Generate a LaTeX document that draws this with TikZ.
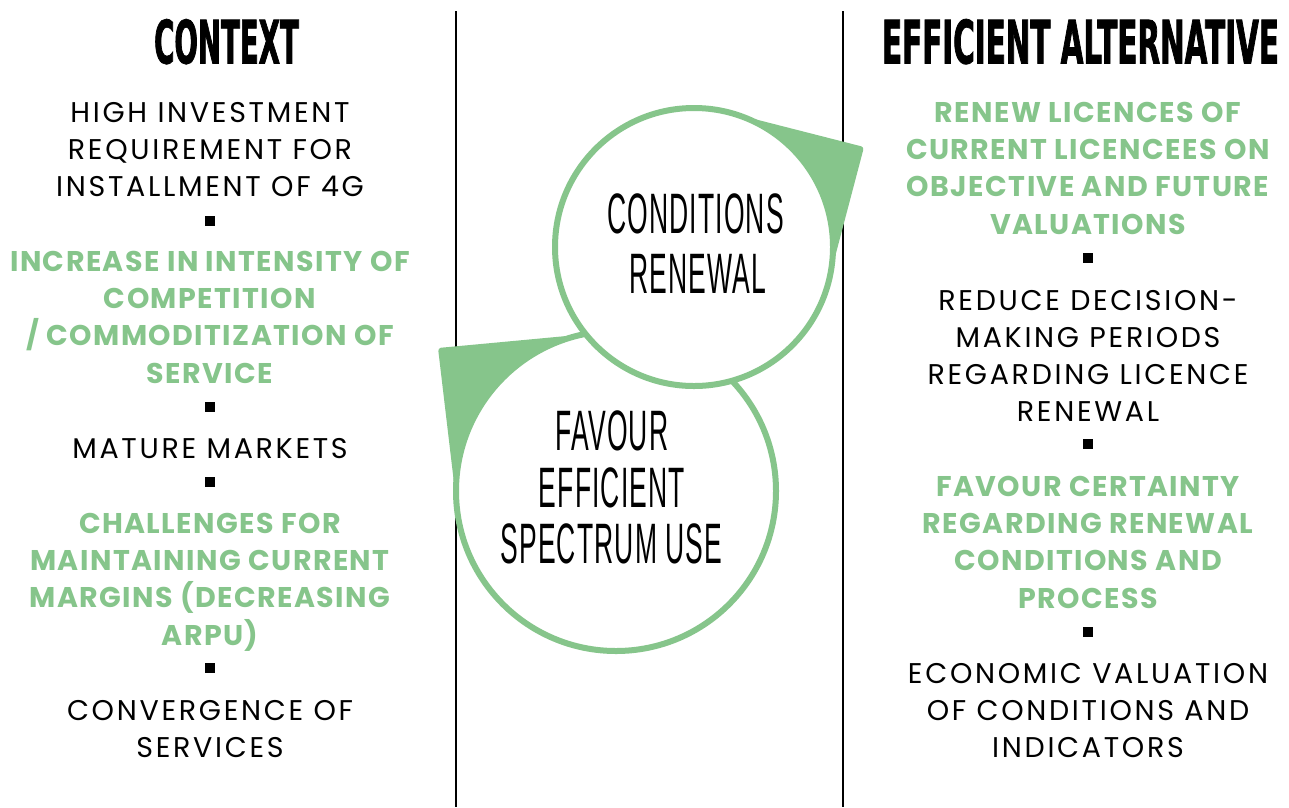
\documentclass[tikz,border=0pt]{standalone}
\usepackage{fontspec}
\setmainfont{Poppins}[LetterSpace=9.5,BoldFeatures={LetterSpace=5}]
\newfontfamily\headA{DejaVu Sans Bold}[FakeStretch=0.46,FakeBold=1.2]
\newfontfamily\headB{DejaVu Sans Bold}[FakeStretch=0.49,FakeBold=1.2]
\newfontfamily\circfont{Liberation Sans}[FakeStretch=0.465,LetterSpace=2]
\definecolor{lgreen}{RGB}{134,197,139}
\begin{document}
\begin{tikzpicture}[x=1pt,y=-1pt,
  txt/.style={anchor=base,inner sep=0,font=\fontsize{28.5}{34}\selectfont,text=black},
  gtxt/.style={anchor=base,inner sep=0,font=\fontsize{28.5}{34}\selectfont\bfseries,text=lgreen},
  bul/.style={rectangle,fill=black,minimum size=10.5pt,inner sep=0},
  head/.style={anchor=base,inner sep=0},
  ctxt/.style={anchor=base,inner sep=0,font=\circfont\fontsize{57}{60}\selectfont},
  ring/.style={circle,draw=lgreen,line width=6pt,fill=white,inner sep=0},
  vline/.style={line width=1.3pt,black},
  arrowfill/.style={fill=lgreen,rounded corners=3pt}]
\useasboundingbox[fill=white] (0,0) rectangle (1289,807);
% separators
\coordinate (lt) at (456,11); \coordinate (lb) at (456,807);
\coordinate (rt) at (843,11); \coordinate (rb) at (843,807);
\draw[vline] (lt) -- (lb);
\draw[vline] (rt) -- (rb);
% lower circle and its arrow
\node[ring,minimum size=320pt] (c2) at (616,491) {};
\coordinate (i2) at (582.7,334.5);
\coordinate (t2) at (438,348);
\coordinate (b2) at (457.6,513.3);
\fill[arrowfill] (i2) -- (t2) -- (b2) arc[start angle=172,end angle=258,radius=160] -- cycle;
% upper circle and its arrow
\node[ring,minimum size=278pt] (c1) at (694,247) {};
\coordinate (a1) at (722.9,111.0);
\coordinate (t1) at (864,147);
\coordinate (b1) at (830.0,275.9);
\fill[arrowfill] (a1) -- (t1) -- (b1) arc[start angle=12,end angle=-78,radius=139] -- cycle;
% circle texts
\node[ctxt] (ct1) at (695.5,233) {CONDITIONS};
\node[ctxt] (ct2) at (697.5,293) {RENEWAL};
\node[ctxt] (ct3) at (612,450) {FAVOUR};
\node[ctxt] (ct4) at (612,507) {EFFICIENT};
\node[ctxt] (ct5) at (611.5,563) {SPECTRUM USE};
% headings
\node[head] (h1) at (226.5,63.5) {\headA\fontsize{60}{62}\selectfont CONTEXT};
\node[head] (h2) at (1080.5,63.5) {\headB\fontsize{60}{62}\selectfont EFFICIENT ALTERNATIVE};
% left column
\node[txt] (l1) at (210,122) {HIGH INVESTMENT};
\node[txt] (l2) at (210,159.4) {REQUIREMENT FOR};
\node[txt] (l3) at (210,196.8) {INSTALLMENT OF 4G};
\node[bul] (lb1) at (210,221) {};
\node[gtxt] (l4) at (210,271) {INCREASE IN INTENSITY OF};
\node[gtxt] (l5) at (210,308.4) {COMPETITION};
\node[gtxt] (l6) at (210,345.8) {/ COMMODITIZATION OF};
\node[gtxt] (l7) at (210,383.2) {SERVICE};
\node[bul] (lb2) at (210,407) {};
\node[txt] (l8) at (210,458) {MATURE MARKETS};
\node[bul] (lb3) at (210,482) {};
\node[gtxt] (l9) at (210,533) {CHALLENGES FOR};
\node[gtxt] (l10) at (210,570.4) {MAINTAINING CURRENT};
\node[gtxt] (l11) at (210,607.8) {MARGINS (DECREASING};
\node[gtxt] (l12) at (210,645.2) {ARPU)};
\node[bul] (lb4) at (210,668) {};
\node[txt] (l13) at (210,720) {CONVERGENCE OF};
\node[txt] (l14) at (210,757) {SERVICES};
% right column
\node[gtxt] (r1) at (1088,122) {RENEW LICENCES OF};
\node[gtxt] (r2) at (1088,159.4) {CURRENT LICENCEES ON};
\node[gtxt] (r3) at (1088,196.8) {OBJECTIVE AND FUTURE};
\node[gtxt] (r4) at (1088,234.2) {VALUATIONS};
\node[bul] (rb1) at (1088,258) {};
\node[txt] (r5) at (1088,310) {REDUCE DECISION-};
\node[txt] (r6) at (1088,347) {MAKING PERIODS};
\node[txt] (r7) at (1088,384) {REGARDING LICENCE};
\node[txt] (r8) at (1088,421) {RENEWAL};
\node[bul] (rb2) at (1088,444) {};
\node[gtxt] (r9) at (1088,496) {FAVOUR CERTAINTY};
\node[gtxt] (r10) at (1088,533.4) {REGARDING RENEWAL};
\node[gtxt] (r11) at (1088,570.8) {CONDITIONS AND};
\node[gtxt] (r12) at (1088,608.2) {PROCESS};
\node[bul] (rb3) at (1088,632) {};
\node[txt] (r13) at (1088,683) {ECONOMIC VALUATION};
\node[txt] (r14) at (1088,720) {OF CONDITIONS AND};
\node[txt] (r15) at (1088,757) {INDICATORS};
\end{tikzpicture}
\end{document}
